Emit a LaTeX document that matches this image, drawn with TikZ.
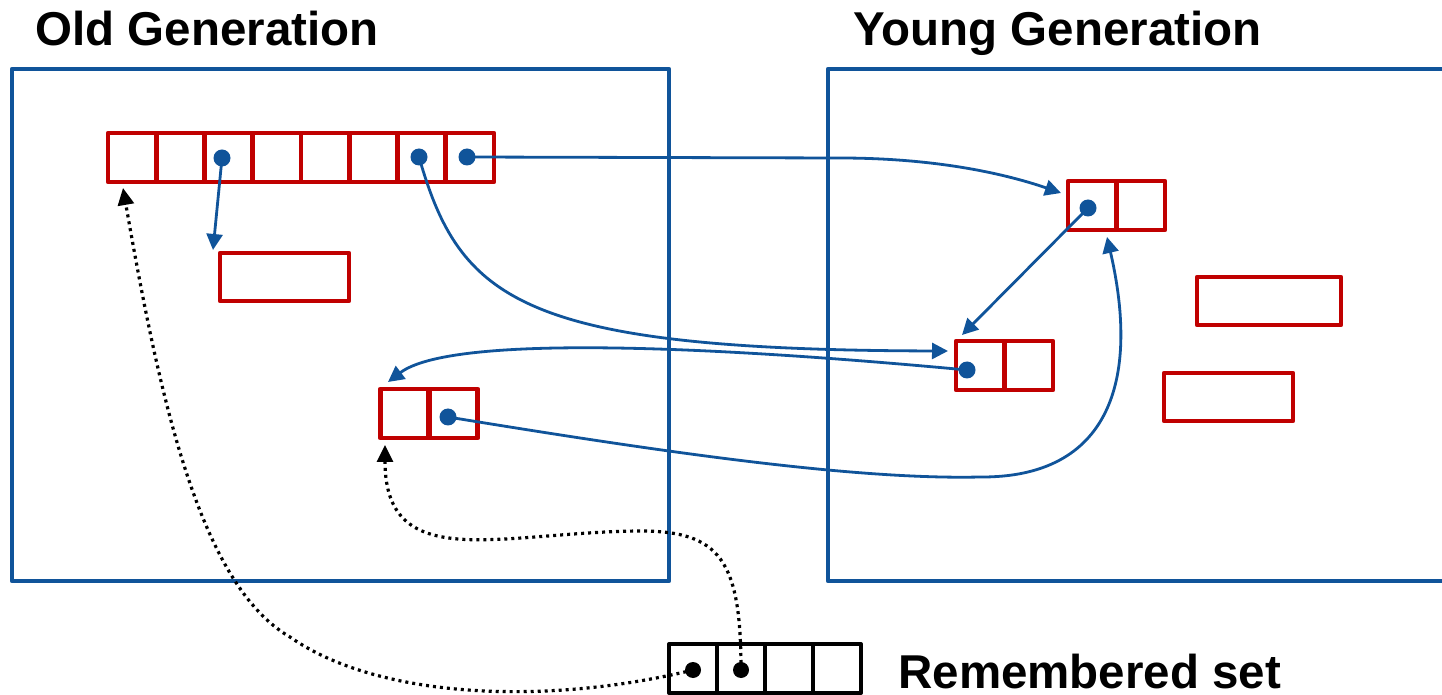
\documentclass[tikz,border=0pt]{standalone}
\usepackage{fontspec}
\setmainfont{Liberation Sans}
\usetikzlibrary{arrows.meta}
\definecolor{genblue}{RGB}{16,84,154}
\definecolor{objred}{RGB}{192,0,0}
\tikzset{
  genbox/.style={draw=genblue, line width=2.2pt, rectangle, inner sep=0pt, line join=round},
  cellbox/.style={draw=objred, line width=2.4pt, rectangle, inner sep=0pt, line join=round, minimum width=24.125pt, minimum height=24.5pt},
  paircell/.style={cellbox, minimum width=24.25pt},
  objbox/.style={draw=objred, line width=2.4pt, rectangle, inner sep=0pt, line join=round, minimum height=24pt},
  remcell/.style={draw=black, line width=2pt, rectangle, inner sep=0pt, line join=round, minimum width=24pt, minimum height=24.5pt},
  bdot/.style={circle, fill=genblue, inner sep=0pt, minimum size=8.5pt},
  kdot/.style={circle, fill=black, inner sep=0pt, minimum size=8pt},
  conn/.style={genblue, line width=1.4pt, -{Triangle[length=8pt,width=8pt]}},
  remconn/.style={black, line width=1.6pt, dash pattern=on 1.5pt off 2pt, -{Triangle[length=8.5pt,width=8pt]}},
  title/.style={font=\fontsize{23.75}{28}\selectfont\bfseries, inner sep=0pt, anchor=base west}
}
\begin{document}
\begin{tikzpicture}[x=0.5pt,y=-0.5pt]
\clip (0,0) rectangle (1442,695);
\fill[white] (0,0) rectangle (1442,695);
% titles
\node[title] (oldt) at (35,46) {Old Generation};
\node[title] (youngt) at (853,46) {Young Generation};
\node[title] (remt) at (898,688) {Remembered set};
% generation boxes
\node[genbox, minimum width=328.5pt, minimum height=256pt] (old) at (340.5,325) {};
\node[genbox, minimum width=316pt, minimum height=256pt] (young) at (1144,325) {};
% array in old gen
\foreach \i in {1,...,8} {
  \node[cellbox] (a\i) at ({108+48.25*(\i-0.5)},157.5) {};
}
\node[bdot] (d3) at (222,158) {};
\node[bdot] (d7) at (419,157) {};
\node[bdot] (d8) at (467,157) {};
% object A
\node[objbox, minimum width=64.5pt] (oa) at (284.5,277) {};
% old pair
\node[paircell] (op1) at (404.5,413.5) {};
\node[paircell] (op2) at (453.5,413.5) {};
\node[bdot] (dop) at (448,417) {};
% young top pair
\node[paircell] (yt1) at (1092.25,205.5) {};
\node[paircell] (yt2) at (1140.75,205.5) {};
\node[bdot] (dyt) at (1088,208) {};
% young middle pair
\node[paircell] (ym1) at (980.25,365.5) {};
\node[paircell] (ym2) at (1028.75,365.5) {};
\node[bdot] (dym) at (967,370) {};
% young single objects
\node[objbox, minimum width=72pt] (yr1) at (1269,301) {};
\node[objbox, minimum width=64.5pt] (yr2) at (1228.5,397) {};
% remembered set
\foreach \i in {1,...,4} {
  \node[remcell] (r\i) at ({669+48*(\i-0.5)},668.5) {};
}
\node[kdot] (dr1) at (693,670) {};
\node[kdot] (dr2) at (741,670) {};
% arrow targets
\coordinate (tA) at (213,250);
\coordinate (tYT) at (1061,193);
\coordinate (tYM) at (948,351);
\coordinate (tYMc) at (962,335);
\coordinate (tOP) at (388,382);
\coordinate (tYTb) at (1107,237);
\coordinate (tArr) at (123,188);
\coordinate (tOPb) at (385,445);
% connectors
\draw[conn] (d3.center) -- (tA);
\draw[conn] (d8.center) -- (840,158) .. controls (930,158) and (1000,172) .. (tYT);
\draw[conn] (d7.center) .. controls (460,300) and (520,350) .. (tYM);
\draw[conn] (dyt.center) -- (tYMc);
\draw[conn] (dym.center) .. controls (700,345) and (450,335) .. (tOP);
\draw[conn] (dop.center) .. controls (650,450) and (850,480) .. (980,477) .. controls (1110,478) and (1140,380) .. (tYTb);
% remembered set pointers
\draw[remconn] (dr1.center) .. controls (550,705) and (380,700) .. (290,637) .. controls (200,585) and (160,400) .. (tArr);
\draw[remconn] (dr2.center) .. controls (741,560) and (720,531) .. (640,531) .. controls (500,532) and (385,575) .. (tOPb);
\end{tikzpicture}
\end{document}
